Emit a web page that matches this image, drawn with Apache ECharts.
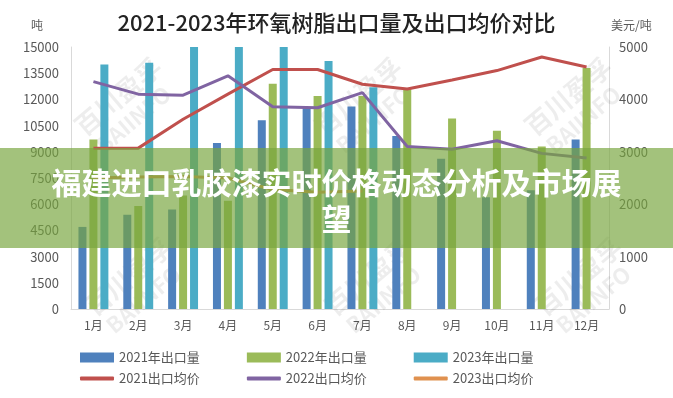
<!DOCTYPE html>
<html><head><meta charset="utf-8">
<script src="https://cdn.jsdelivr.net/npm/echarts@6/dist/echarts.min.js"></script>
<style>html,body{margin:0;padding:0;background:#fff}#c{width:673px;height:398px}</style>
</head><body><div id="c"></div>
<script>
const categories = ['1月','2月','3月','4月','5月','6月','7月','8月','9月','10月','11月','12月'];
const export2021 = [4700,5400,5700,9500,10800,11500,11600,9900,8600,6400,6800,9700];
const export2022 = [9700,5900,6500,6200,12900,12200,12200,12600,10900,10200,9300,13800];
const export2023 = [14000,14100,15000,15000,15000,14200,12700,null,null,null,null,null];
const price2021 = [3070,3070,3620,4100,4570,4570,4290,4200,4370,4550,4810,4620];
const price2022 = [4340,4100,4080,4450,3860,3840,4130,3100,3050,3210,2970,2880];
const price2023 = [2500,2520,2530,2500,2280,2230,2250,null,null,null,null,null];
const leftTicks = [0,1500,3000,4500,6000,7500,9000,10500,12000,13500,15000];
const rightTicks = [0,1000,2000,3000,4000,5000];

const chart = echarts.init(document.getElementById('c'));
const font = '"Noto Sans CJK SC", sans-serif';
const wm = [];
[[70,120],[310,120],[520,120],[80,300],[320,300],[530,300]].forEach(p=>{
  wm.push({type:'text',x:p[0],y:p[1],rotation:0.7,z:1,style:{text:'百川盈孚',font:'bold 26px '+font,fill:'rgba(0,0,0,0.07)'}});
  wm.push({type:'text',x:p[0]+22,y:p[1]+20,rotation:0.7,z:1,style:{text:'BAIINFO',font:'bold 22px '+font,fill:'rgba(0,0,0,0.07)'}});
});
chart.setOption({
  animation:false,
  backgroundColor:'#fff',
  title:{text:'2021-2023年环氧树脂出口量及出口均价对比',left:'center',top:7,
    textStyle:{fontFamily:font,fontSize:22,fontWeight:500,color:'#222'}},
  grid:{left:71,right:64,top:47,bottom:89},
  legend:[
    {data:['2021年出口量','2022年出口量','2023年出口量'],left:75,top:346,itemWidth:34,itemHeight:10,itemGap:47,icon:'rect',
     textStyle:{fontFamily:font,fontSize:13,color:'#595959'}},
    {data:['2021出口均价','2022出口均价','2023出口均价'],left:75,top:367,itemWidth:34,itemHeight:4,itemGap:47,icon:'roundRect',
     textStyle:{fontFamily:font,fontSize:13,color:'#595959'}}
  ],
  xAxis:{type:'category',data:categories,axisTick:{show:false},
    axisLine:{lineStyle:{color:'#d9d9d9'}},
    axisLabel:{fontFamily:font,fontSize:12,color:'#595959',margin:10}},
  yAxis:[
    {type:'value',min:0,max:15000,interval:1500,name:'吨',nameLocation:'end',nameGap:16,
     nameTextStyle:{fontFamily:font,fontSize:12,color:'#595959',align:'right',padding:[0,28,0,0]},
     splitLine:{show:false},axisLine:{show:true,lineStyle:{color:'#d9d9d9'}},axisTick:{show:false},
     axisLabel:{fontFamily:font,fontSize:13,color:'#595959',margin:12,
       formatter:v=>leftTicks.includes(v)?String(v):''}},
    {type:'value',min:0,max:5000,interval:1000,name:'美元/吨',nameLocation:'end',nameGap:16,
     nameTextStyle:{fontFamily:font,fontSize:12,color:'#595959',align:'left',padding:[0,0,0,2]},
     splitLine:{show:false},axisLine:{show:true,lineStyle:{color:'#d9d9d9'}},axisTick:{show:false},
     axisLabel:{fontFamily:font,fontSize:13,color:'#595959',margin:10,
       formatter:v=>rightTicks.includes(v)?String(v):''}}
  ],
  series:[
    {name:'2021年出口量',type:'bar',data:export2021,barWidth:8,barGap:'37%',itemStyle:{color:'#4f81bd'},z:2},
    {name:'2022年出口量',type:'bar',data:export2022,barWidth:8,barGap:'37%',itemStyle:{color:'#9bbb59'},z:2},
    {name:'2023年出口量',type:'bar',data:export2023,barWidth:8,barGap:'37%',itemStyle:{color:'#4bacc6'},z:2},
    {name:'2021出口均价',type:'line',yAxisIndex:1,data:price2021,symbol:'none',lineStyle:{width:3,color:'#c0504d'},itemStyle:{color:'#c0504d'},z:3},
    {name:'2022出口均价',type:'line',yAxisIndex:1,data:price2022,symbol:'none',lineStyle:{width:3,color:'#8064a2'},itemStyle:{color:'#8064a2'},z:3},
    {name:'2023出口均价',type:'line',yAxisIndex:1,data:price2023,symbol:'none',lineStyle:{width:3,color:'#e0914f'},itemStyle:{color:'#e0914f'},z:3}
  ],
  graphic:wm.concat([
    {type:'rect',left:0,top:148,z:100,shape:{width:673,height:100},style:{fill:'rgba(120,165,62,0.68)'}},
    {type:'text',x:336.5,y:165,z:101,style:{text:'福建进口乳胶漆实时价格动态分析及市场展\n望',
      font:'bold 30px '+font,fill:'#fff',align:'center',lineHeight:36}}
  ])
});
</script></body></html>
